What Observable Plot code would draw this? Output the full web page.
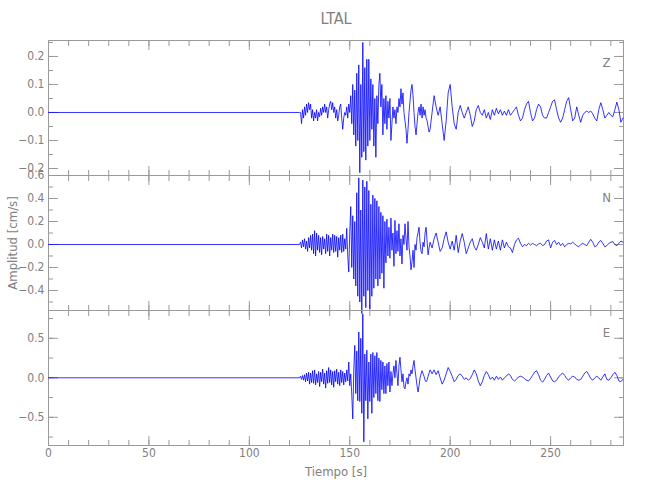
<!DOCTYPE html>
<html><head><meta charset="utf-8">
<script src="https://cdn.jsdelivr.net/npm/d3@7"></script>
<script src="https://cdn.jsdelivr.net/npm/@observablehq/plot@0.6"></script>
<style>
body{margin:0;background:#fff;}
#chart{position:relative;width:650px;height:500px;background:#fff;}
#chart svg{position:absolute;left:0;top:0;overflow:visible;}
</style></head><body><div id="chart"></div>
<script>
const stationName = "LTAL";
const xLabel = "Tiempo [s]";
const yLabel = "Amplitud [cm/s]";
const componentNames = ["Z", "N", "E"];

// sampling of the traces (seconds)
const quietStart = 0;
const onsetTime = 125;
const denseStep = 0.5;   // dense part: 125 .. 189.5 s
const tailStart = 190;
const tailStep = 1;      // tail part: 190 .. 286 s

// Z component, amplitude in cm/s
const zDense = [
  0, 0, -0.04, 0.01, -0.02, 0.02, -0.01, 0.03, 0, 0.035,
  0.01, 0.03, -0.02, 0.01, -0.03, 0, -0.02, 0.01, -0.03, 0,
  -0.015, 0.015, -0.01, 0.02, 0, 0.03, 0, 0.02, -0.02, 0.01,
  0.03, 0.04, 0.01, 0.035, 0, 0.02, -0.02, 0.01, -0.03, -0.01,
  0.02, 0.03, -0.02, -0.06, -0.02, 0, -0.01, 0.02, -0.02, 0.03,
  0, 0.06, -0.04, 0.1, -0.08, 0.08, -0.12, 0.14, -0.1, 0.17,
  -0.215, 0.1, -0.16, 0.25, -0.14, 0.16, -0.17, 0.19, -0.12, 0.19,
  -0.1, 0.12, -0.06, 0.1, -0.12, 0.05, -0.16, 0.06, -0.04, 0.1,
  0.14, 0.02, 0.1, -0.08, 0.05, -0.04, 0.06, -0.06, 0.04, -0.02,
  0.05, -0.1, -0.04, 0.02, -0.02, 0.01, -0.04, 0.02, 0, 0.05,
  0.02, 0.085, 0.03, 0.07, 0, -0.03, -0.06, -0.11, -0.06, 0,
  0.04, 0.08, 0.1, 0.06, 0, -0.05, -0.08, -0.04, 0, 0.02,
  -0.01, 0.03, -0.02, 0.02, -0.01, 0.01, -0.02, -0.03, -0.05, -0.07
];
const zTail = [
  -0.06, 0, 0.06, 0.02, -0.01, 0.02, -0.04, -0.1, -0.03, 0.07,
  0.1, 0.02, -0.04, -0.06, 0, 0.025, 0, -0.02, 0, 0.02,
  -0.01, -0.05, -0.03, 0.01, 0.025, 0, -0.01, 0.01, -0.02, 0,
  -0.025, 0.01, -0.01, 0.015, -0.005, 0.01, -0.01, 0.005, -0.01, 0.01,
  -0.01, 0, 0.01, 0.02, -0.01, -0.03, -0.02, 0.01, 0.03, 0.04,
  0, -0.03, -0.02, 0.01, 0.03, 0.02, -0.01, -0.02, -0.02, 0,
  0.02, 0.04, 0.045, 0.01, -0.02, -0.035, -0.02, 0.01, 0.04, 0.053,
  0.01, -0.03, -0.02, 0.02, -0.01, -0.035, -0.01, 0, 0.005, 0,
  0.005, -0.005, -0.02, -0.03, 0.01, 0.035, 0.01, -0.02, -0.01, 0,
  -0.01, -0.015, 0.01, 0.037, 0.01, -0.035, -0.02
];

// N component
const nDense = [
  0, 0.02, -0.03, 0.04, -0.02, 0.05, -0.04, 0.03, -0.06, 0.06,
  -0.03, 0.08, -0.05, 0.09, -0.08, 0.12, -0.1, 0.1, -0.05, 0.08,
  -0.07, 0.06, -0.09, 0.07, -0.04, 0.05, -0.08, 0.09, -0.06, 0.08,
  -0.1, 0.06, -0.05, 0.09, -0.07, 0.08, -0.06, 0.07, -0.11, 0.06,
  -0.05, 0.08, -0.07, 0.09, -0.06, 0.05, -0.04, 0.14, -0.1, -0.24,
  0.1, 0.33, -0.2, 0.25, -0.3, 0.2, -0.36, 0.45, -0.45, 0.58,
  -0.5, 0.3, -0.6, 0.56, -0.45, 0.5, -0.55, 0.55, -0.4, 0.47,
  -0.56, 0.35, -0.45, 0.43, -0.38, 0.4, -0.3, 0.38, -0.36, 0.33,
  -0.3, 0.28, -0.25, 0.25, -0.38, 0.2, -0.16, 0.22, -0.1, 0.15,
  -0.12, 0.23, -0.05, 0.1, -0.19, 0.21, -0.08, 0.12, -0.06, 0.18,
  -0.1, 0.05, -0.17, 0.08, 0, 0.18, 0.05, -0.05, 0.2, -0.02,
  -0.1, -0.22, -0.15, -0.05, -0.2, 0, -0.05, 0.06, 0.1, 0.15,
  0.02, -0.06, -0.08, 0.02, -0.02, 0.1, 0.15, 0.03, -0.09, -0.03
];
const nTail = [
  0.02, -0.03, 0.05, 0.1, 0.02, -0.06, -0.03, 0.05, 0.11, 0.02,
  -0.04, 0.03, -0.05, 0.08, -0.07, 0.03, 0.095, 0.02, -0.08, -0.03,
  0.02, 0.05, -0.02, -0.05, 0, 0.06, 0.02, -0.03, 0.095, -0.04,
  0.05, -0.05, 0.04, -0.04, 0.03, -0.05, 0.04, -0.03, 0.02, -0.02,
  -0.03, -0.07, 0, 0.04, 0.055, 0.01, -0.02, 0, -0.01, 0.01,
  -0.005, 0.01, 0, -0.01, 0.005, 0.01, -0.01, 0, 0.03, 0.04,
  -0.03, 0.02, 0.035, 0, 0.02, -0.01, 0.01, -0.02, 0, 0.01,
  0.005, 0.02, 0.005, -0.01, -0.02, 0, 0.01, 0, -0.01, 0.02,
  0.045, 0.02, -0.02, -0.01, 0.02, 0.035, 0.01, -0.02, -0.01, 0.01,
  0.02, 0.025, 0, -0.01, 0.01, 0.03, 0.02
];

// E component
const eDense = [
  0, 0.02, -0.02, 0.03, -0.03, 0.04, -0.05, 0.06, -0.04, 0.07,
  -0.08, 0.06, -0.06, 0.09, -0.07, 0.1, -0.09, 0.05, -0.06, 0.08,
  -0.11, 0.07, -0.05, 0.11, -0.08, 0.06, -0.13, 0.09, -0.07, 0.13,
  -0.06, 0.1, -0.09, 0.08, -0.12, 0.09, -0.05, 0.11, -0.08, 0.07,
  -0.1, 0.1, -0.06, 0.08, -0.09, 0.06, -0.05, 0.1, -0.04, 0.2,
  -0.1, 0.05, -0.22, -0.52, 0.1, 0.41, -0.2, 0.34, -0.29, 0.58,
  -0.3, 0.5, -0.45, 0.81, -0.81, 0.3, -0.29, 0.35, -0.52, 0.2,
  -0.3, 0.3, -0.45, 0.32, -0.25, 0.28, -0.2, 0.32, -0.29, 0.25,
  -0.3, 0.22, -0.15, 0.2, -0.2, 0.15, -0.2, 0.18, -0.1, 0.2,
  -0.18, 0.08, -0.1, 0.05, 0.15, 0, 0.22, 0.05, -0.1, 0.15,
  0.26, 0.1, -0.05, 0.05, -0.12, -0.14, -0.05, 0, -0.08, 0.05,
  0.02, 0.1, 0.05, 0.15, 0.22, 0.1, 0, -0.1, -0.18, -0.1,
  0, 0.05, 0.09, 0.05, 0.02, -0.03, -0.05, -0.03, 0.02, 0.06
];
const eTail = [
  0.1, 0.05, 0.1, 0.04, 0.09, 0, -0.08, -0.03, 0.05, 0.13,
  0.08, 0.02, -0.05, -0.02, 0.03, 0.05, 0.02, -0.02, 0, -0.03,
  -0.01, 0.04, 0.1, 0.05, -0.04, -0.1, -0.05, 0.03, 0.08, 0.04,
  -0.02, 0.01, -0.03, 0.02, -0.02, 0.01, -0.03, 0, 0.02, 0.05,
  0.03, -0.02, -0.04, -0.02, 0.01, 0.02, 0.01, -0.01, -0.03, -0.04,
  -0.01, 0.03, 0.07, 0.09, 0.04, -0.03, -0.055, -0.02, 0.03, 0.06,
  0.01, -0.04, -0.05, -0.03, 0.01, 0.04, 0.06, 0.03, -0.01, -0.03,
  0, 0.02, 0.01, -0.02, -0.03, -0.02, 0.02, 0.06, 0.08, 0.04,
  -0.01, -0.03, 0, 0.02, 0, -0.03, 0.01, 0.05, -0.02, -0.03,
  0, 0.04, 0.07, 0.03, -0.04, -0.05, -0.02
];

// axes
const xDomain = [0, 286.3];
const xMajorTicks = [0, 50, 100, 150, 200, 250];
const xMinorTicks = [0,10,20,30,40,50,60,70,80,90,100,110,120,130,140,150,160,170,180,190,200,210,220,230,240,250,260,270,280];
const zDomain = [-0.225, 0.257];
const zMajorTicks = [-0.2, -0.1, 0, 0.1, 0.2];
const zMinorTicks = [-0.2, -0.15, -0.1, -0.05, 0, 0.05, 0.1, 0.15, 0.2, 0.25];
const nDomain = [-0.574, 0.6];
const nMajorTicks = [-0.4, -0.2, 0, 0.2, 0.4, 0.6];
const nMinorTicks = [-0.5, -0.4, -0.3, -0.2, -0.1, 0, 0.1, 0.2, 0.3, 0.4, 0.5, 0.6];
const eDomain = [-0.857, 0.852];
const eMajorTicks = [-0.5, 0, 0.5];
const eMinorTicks = [-0.75, -0.5, -0.25, 0, 0.25, 0.5, 0.75];

function buildSeries(dense, tail) {
  const pts = [{t: quietStart, v: 0}];
  dense.forEach((v, i) => pts.push({t: onsetTime + i * denseStep, v}));
  tail.forEach((v, i) => pts.push({t: tailStart + i * tailStep, v}));
  return pts;
}

const panels = [
  {name: componentNames[0], data: buildSeries(zDense, zTail), domain: zDomain, major: zMajorTicks, minor: zMinorTicks, top: 40, bottom: 175},
  {name: componentNames[1], data: buildSeries(nDense, nTail), domain: nDomain, major: nMajorTicks, minor: nMinorTicks, top: 175, bottom: 310},
  {name: componentNames[2], data: buildSeries(eDense, eTail), domain: eDomain, major: eMajorTicks, minor: eMinorTicks, top: 310, bottom: 445}
];

const W = 650, H = 500;
const axisColor = "#9a9a9a";
const textColor = "#808080";
const fontFamily = "'Liberation Sans Narrow', 'DejaVu Sans Condensed', 'Roboto', sans-serif";
const fmt = d3.format(".1f");
const chart = document.getElementById("chart");

panels.forEach((p, idx) => {
  const marks = [
    Plot.frame({stroke: axisColor}),
    Plot.axisX(xMinorTicks, {anchor: "bottom", tickSize: 5, dy: -5, fill: "none", label: null, stroke: axisColor}),
    Plot.axisX(xMajorTicks, {anchor: "bottom", tickSize: 9, dy: -9, fill: "none", label: null, stroke: axisColor}),
    Plot.axisX(xMinorTicks, {anchor: "top", tickSize: 5, dy: 5, fill: "none", label: null, stroke: axisColor}),
    Plot.axisX(xMajorTicks, {anchor: "top", tickSize: 9, dy: 9, fill: "none", label: null, stroke: axisColor}),
    Plot.axisY(p.minor, {anchor: "left", tickSize: 5, dx: 5, fill: "none", label: null, stroke: axisColor}),
    Plot.axisY(p.major, {anchor: "left", tickSize: 10, dx: 10, fill: "none", label: null, stroke: axisColor}),
    Plot.axisY(p.minor, {anchor: "right", tickSize: 5, dx: -5, fill: "none", label: null, stroke: axisColor}),
    Plot.axisY(p.major, {anchor: "right", tickSize: 10, dx: -10, fill: "none", label: null, stroke: axisColor}),
    Plot.axisY(p.major, {anchor: "left", tickSize: 0, tickPadding: 4, tickFormat: fmt, label: null, fill: textColor, fontSize: 12}),
    Plot.line(p.data, {x: "t", y: "v", stroke: "#0000ff", strokeWidth: 0.8}),
    Plot.text([p.name], {text: d => d, frameAnchor: "top-right", dx: -17, dy: 22, textAnchor: "middle", lineAnchor: "middle", fill: textColor, fontSize: 13})
  ];
  if (idx === 0) {
    marks.push(Plot.text([stationName], {text: d => d, frameAnchor: "top", dy: -22, textAnchor: "middle", lineAnchor: "middle", fill: textColor, fontSize: 16}));
  }
  if (idx === 1) {
    marks.push(Plot.text([yLabel], {text: d => d, frameAnchor: "left", dx: -36, rotate: -90, textAnchor: "middle", lineAnchor: "middle", fill: textColor, fontSize: 13}));
  }
  if (idx === 2) {
    marks.push(Plot.axisX(xMajorTicks, {anchor: "bottom", tickSize: 0, tickPadding: 3, label: null, fill: textColor, fontSize: 12}));
    marks.push(Plot.text([xLabel], {text: d => d, frameAnchor: "bottom", dy: 26, textAnchor: "middle", lineAnchor: "middle", fill: textColor, fontSize: 13}));
  }
  const svg = Plot.plot({
    width: W,
    height: H,
    marginLeft: 48,
    marginRight: W - 623,
    marginTop: p.top,
    marginBottom: H - p.bottom,
    x: {domain: xDomain},
    y: {domain: p.domain},
    style: {background: "transparent", fontFamily, fontSize: "12px", color: textColor, overflow: "visible"},
    marks
  });
  chart.appendChild(svg);
});
</script>
</body></html>
